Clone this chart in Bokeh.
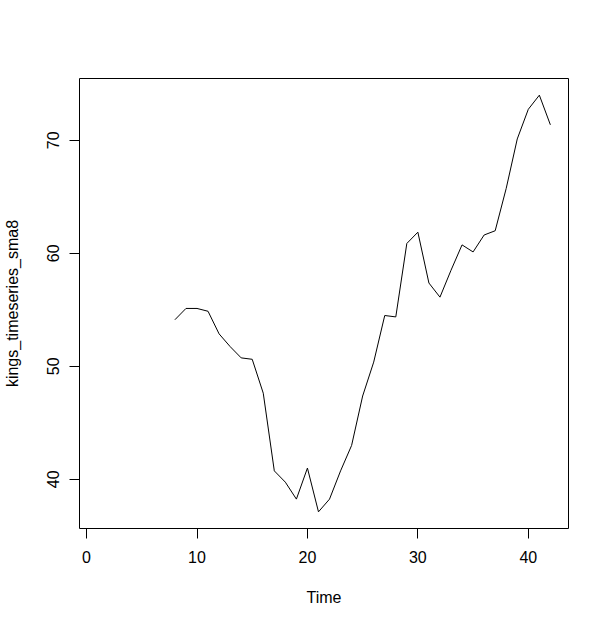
from bokeh.plotting import figure
from bokeh.models import Range1d, FixedTicker
from bokeh.embed import file_html
from bokeh.resources import INLINE

# 8-period simple moving average of the kings time series (values from t=8 to t=42)
time = list(range(8, 43))
sma8 = [54.125, 55.125, 55.125, 54.875, 52.875, 51.75, 50.75, 50.625, 47.625,
        40.75, 39.75, 38.25, 41.0, 37.125, 38.25, 40.75, 43.0, 47.375, 50.375,
        54.5, 54.375, 60.875, 61.875, 57.375, 56.125, 58.5, 60.75, 60.125,
        61.625, 62.0, 65.75, 70.125, 72.75, 74.0, 71.375]
x_ticks = [0, 10, 20, 30, 40]
y_ticks = [40, 50, 60, 70]
x_label = "Time"
y_label = "kings_timeseries_sma8"

FONT = "Liberation Sans"

p = figure(width=608, height=626, output_backend="svg", toolbar_location=None,
           x_range=Range1d(-0.64, 43.64), y_range=Range1d(35.65, 75.475),
           min_border_left=79, min_border_right=40, min_border_top=78,
           min_border_bottom=98)
p.line(time, sma8, line_color="black", line_width=1)

p.grid.visible = False
p.outline_line_color = "black"
p.outline_line_width = 1
p.background_fill_color = "white"
p.border_fill_color = "white"

for ax, ticks in ((p.xaxis[0], x_ticks), (p.yaxis[0], y_ticks)):
    ax.ticker = FixedTicker(ticks=ticks)
    ax.axis_line_color = None
    ax.major_tick_line_color = "black"
    ax.major_tick_in = 0
    ax.major_tick_out = 10
    ax.minor_tick_line_color = None
    ax.major_label_text_font = FONT
    ax.major_label_text_font_size = "16px"
    ax.major_label_text_color = "black"
    ax.axis_label_text_font = FONT
    ax.axis_label_text_font_size = "16px"
    ax.axis_label_text_font_style = "normal"
    ax.axis_label_text_color = "black"

p.xaxis.axis_label = x_label
p.yaxis.axis_label = y_label
p.xaxis.major_label_standoff = 12
p.xaxis.axis_label_standoff = 23
p.yaxis.major_label_orientation = "vertical"
p.yaxis.major_label_standoff = 10
p.yaxis.axis_label_standoff = 24

open("out.html", "w").write(file_html(p, INLINE))
